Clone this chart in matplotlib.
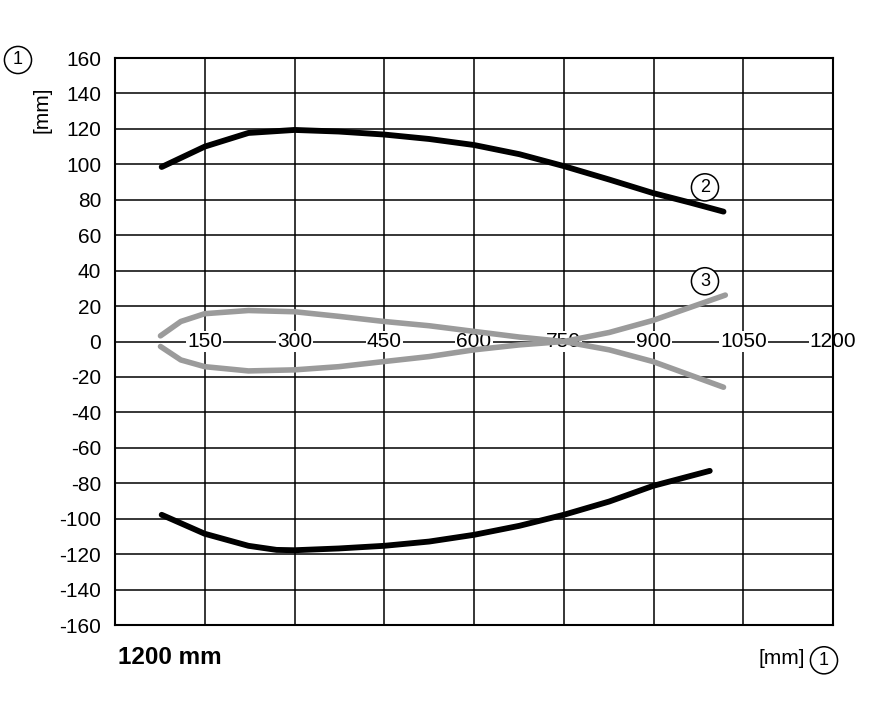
import matplotlib.pyplot as plt

plt.rcParams['font.family'] = ['Liberation Sans', 'DejaVu Sans']

# curve data (x in mm, y in mm)
outer_top_x = [78, 150, 223, 300, 374, 450, 525, 600, 676, 750, 826, 899, 960, 1017]
outer_top_y = [98.5, 110, 117.7, 119.4, 118.5, 116.8, 114.3, 110.9, 105.7, 99, 91.4, 83.8, 78.5, 73.3]
outer_bot_x = [78, 150, 223, 270, 300, 374, 450, 525, 600, 676, 750, 826, 899, 994]
outer_bot_y = [-97.8, -108.5, -115.3, -117.6, -117.8, -116.8, -115.3, -112.9, -109.1, -104,
               -97.8, -90.3, -81.5, -73]
inner_a_x = [76, 110, 150, 223, 300, 374, 450, 525, 600, 676, 750, 826, 899, 1017]
inner_a_y = [3.2, 11.3, 15.7, 17.5, 16.8, 14.2, 11.3, 8.9, 5.7, 2.5, 0, -4.7, -11.3, -25.8]
inner_b_x = [76, 110, 150, 223, 300, 374, 450, 525, 600, 676, 750, 826, 899, 1020]
inner_b_y = [-2.8, -10.4, -14.2, -16.6, -16, -14.2, -11.3, -8.5, -4.7, -1.9, 0, 5.1, 11.9, 26.2]

x_ticks = [150, 300, 450, 600, 750, 900, 1050, 1200]
y_ticks = list(range(-160, 161, 20))

fig = plt.figure(figsize=(8.86, 7.10), dpi=100)
ax = fig.add_axes([0.1298, 0.1197, 0.8104, 0.7986])
ax.set_xlim(0, 1200)
ax.set_ylim(-160, 160)

for v in [0, 150, 300, 450, 600, 750, 900, 1050]:
    ax.axvline(v, color='black', lw=1.1, zorder=1)
for v in y_ticks:
    ax.axhline(v, color='black', lw=1.1, zorder=1)

for s in ax.spines.values():
    s.set_linewidth(1.5)

ax.set_xticks([])
ax.set_yticks(y_ticks)
ax.set_yticklabels([str(v) for v in y_ticks], fontsize=15)
ax.tick_params(axis='y', length=0, pad=10)

# x tick labels sit on the zero line
for v in x_ticks:
    ax.text(v, 0, str(v), ha='center', va='center', fontsize=15, zorder=2,
            bbox=dict(boxstyle='square,pad=0.05', fc='white', ec='none'))

line_kw = dict(solid_capstyle='round', solid_joinstyle='round')
ax.plot(outer_top_x, outer_top_y, color='black', lw=4.2, zorder=4, **line_kw)
ax.plot(outer_bot_x, outer_bot_y, color='black', lw=4.2, zorder=4, **line_kw)
ax.plot(inner_a_x, inner_a_y, color='#9b9b9b', lw=4.0, zorder=3, **line_kw)
ax.plot(inner_b_x, inner_b_y, color='#9b9b9b', lw=4.0, zorder=3, **line_kw)

circ = dict(boxstyle='circle,pad=0.28', fc='white', ec='black', lw=1.1)
ax.text(986, 87, '2', ha='center', va='center', fontsize=13, bbox=circ, zorder=5)
ax.text(986, 34, '3', ha='center', va='center', fontsize=13, bbox=circ, zorder=5)

fig.text(0.0203, 0.9155, '1', ha='center', va='center', fontsize=13, bbox=circ)
fig.text(0.047, 0.845, '[mm]', ha='center', va='center', rotation=90, fontsize=15)
fig.text(0.133, 0.0746, '1200 mm', ha='left', va='center', fontsize=17.5, fontweight='bold')
fig.text(0.909, 0.073, '[mm]', ha='right', va='center', fontsize=15)
fig.text(0.930, 0.070, '1', ha='center', va='center', fontsize=13, bbox=circ)

fig.savefig('out.png', dpi=100)
